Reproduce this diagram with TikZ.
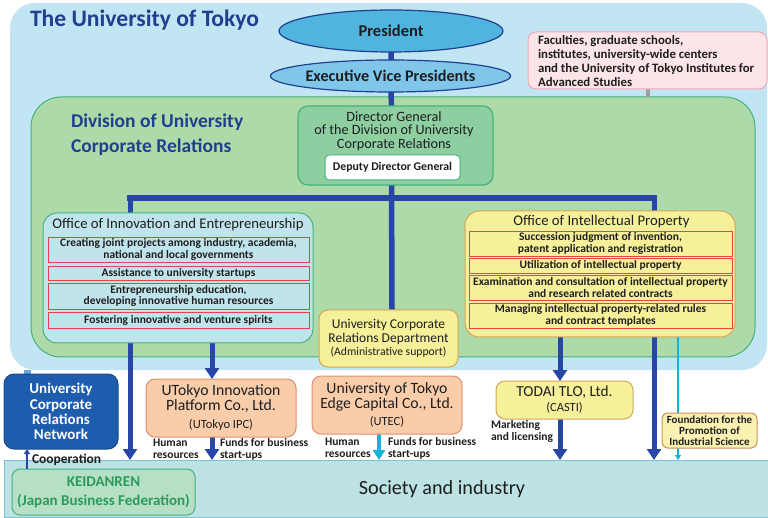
\documentclass[tikz,border=0pt]{standalone}
\usepackage{fontspec}
\setmainfont{Carlito}
\usetikzlibrary{arrows.meta,shapes.geometric}
\pgfdeclarelayer{bg}
\pgfdeclarelayer{mid}
\pgfsetlayers{bg,mid,main}
\definecolor{outerblue}{HTML}{C2E5F4}
\definecolor{divgreen}{HTML}{AEDAA9}
\definecolor{greenline}{HTML}{45B27A}
\definecolor{dggreen}{HTML}{8ECFA2}
\definecolor{navy}{HTML}{1F3F8F}
\definecolor{arrowblue}{HTML}{2846A6}
\definecolor{presblue}{HTML}{50B4DF}
\definecolor{evpblue}{HTML}{80C6EB}
\definecolor{pinkfill}{HTML}{FCE5E9}
\definecolor{pinkline}{HTML}{EFA7B6}
\definecolor{oiefill}{HTML}{C0E4EC}
\definecolor{redline}{HTML}{E8434A}
\definecolor{yelfill}{HTML}{F6F09A}
\definecolor{yelline}{HTML}{D3A657}
\definecolor{fndfill}{HTML}{F9F0B2}
\definecolor{fndline}{HTML}{C8905A}
\definecolor{peachfill}{HTML}{F9CCAA}
\definecolor{peachline}{HTML}{E08F72}
\definecolor{ucrnblue}{HTML}{1E5DAE}
\definecolor{ucrnline}{HTML}{1A4A8A}
\definecolor{socfill}{HTML}{BDE2E3}
\definecolor{socline}{HTML}{7DBFD6}
\definecolor{keifill}{HTML}{B6E0C5}
\definecolor{keitext}{HTML}{2B9A5C}
\definecolor{cyanarr}{HTML}{18B2D9}
\definecolor{txt}{HTML}{1E1E1E}
\definecolor{linkblue}{HTML}{6AA8DC}
\definecolor{greyconn}{HTML}{A0A0A0}
\newcommand\myfs[2]{\fontsize{#1pt}{#2pt}\selectfont}
\begin{document}
\begin{tikzpicture}[x=1pt,y=-1pt,
  every node/.style={inner sep=0pt, outer sep=0pt, text=txt},
  bigline/.style={line width=5.5pt, draw=arrowblue},
  bigarrow/.style={line width=5pt, draw=arrowblue, -{Triangle[width=14pt,length=11pt]}},
  cyanarrow/.style={line width=4pt, draw=cyanarr, -{Triangle[width=12pt,length=10pt]}},
  thincyan/.style={line width=1.8pt, draw=cyanarr, -{Triangle[width=6pt,length=5pt]}},
  thinarrow/.style={line width=1.5pt, draw=arrowblue, -{Triangle[width=6pt,length=5pt]}},
  oiebox/.style={draw=greenline, fill=oiefill, line width=1pt, rounded corners=14pt},
  oipbox/.style={draw=yelline, fill=yelfill, line width=1pt, rounded corners=14pt},
  itembox/.style={draw=redline, line width=0.9pt, align=center, minimum width=#1, font=\bfseries\myfs{11.5}{11.5}},
  compbox/.style={draw=peachline, fill=peachfill, line width=1pt, rounded corners=9pt, align=center, font=\myfs{15.7}{15}},
  yelbox/.style={draw=yelline, fill=yelfill, line width=1pt, rounded corners=9pt, align=center},
  lab/.style={align=left, anchor=west, font=\bfseries\myfs{11.5}{12}},
]
\useasboundingbox (0,0) rectangle (768,518);
\begin{pgfonlayer}{bg}
\node[fill=outerblue, rounded corners=25pt, minimum width=757pt, minimum height=367pt] (outer) at (388.5,186.5) {};
\node[fill=divgreen, draw=greenline, line width=1pt, rounded corners=30pt, minimum width=724pt, minimum height=260pt] (div) at (393,227) {};
\node[fill=socfill, draw=socline, line width=1pt, minimum width=764pt, minimum height=57pt] (soc) at (386,488.5) {};
\end{pgfonlayer}

% titles
\node[anchor=base west, text=navy, font=\bfseries\myfs{23.6}{27}] (title) at (30,27) {The University of Tokyo};
\node[anchor=west, align=left, text=navy, font=\bfseries\myfs{19.5}{25}] (divtitle) at (71,135) {Division of University\\Corporate Relations};

% top hierarchy
\node[ellipse, draw=navy, line width=1.2pt, fill=presblue, minimum width=224pt, minimum height=42pt, font=\bfseries\myfs{16.5}{19}] (pres) at (391,31) {President};
\node[ellipse, draw=navy, line width=1.2pt, fill=evpblue, minimum width=216pt, minimum height=32pt, font=\bfseries\myfs{16.2}{19}] (evp) at (390.5,76) {Executive Vice Presidents};
\node[draw=greenline, fill=dggreen, line width=1.2pt, rounded corners=10pt, minimum width=195pt, minimum height=79pt] (dg) at (395.5,145.5) {};
\node[align=center, font=\myfs{14.2}{13.7}] (dgtext) at (394,131) {Director General\\of the Division of University\\Corporate Relations};
\node[draw=greenline, fill=white, line width=1pt, rounded corners=4pt, minimum width=135pt, minimum height=25pt, font=\bfseries\myfs{11.8}{13}] (deputy) at (392.5,167.5) {Deputy Director General};

\node[draw=pinkline, fill=pinkfill, line width=1pt, rounded corners=8pt, minimum width=239pt, minimum height=57pt] (pink) at (647.5,60.5) {};
\node[anchor=west, align=left, font=\bfseries\myfs{12.8}{14}] (pinktext) at (538,61) {Faculties, graduate schools,\\institutes, university-wide centers\\and the University of Tokyo Institutes for\\Advanced Studies};

% offices
\node[oiebox, minimum width=270pt, minimum height=130pt] (oie) at (178,278) {};
\node[font=\myfs{14.7}{16}] (oietitle) at (178,225) {Office of Innovation and Entrepreneurship};
\node[itembox=261pt, minimum height=25pt] (oie1) at (178.5,249.5) {Creating joint projects among industry, academia,\\national and local governments};
\node[itembox=261pt, minimum height=14pt] (oie2) at (178.5,273) {Assistance to university startups};
\node[itembox=261pt, minimum height=26pt] (oie3) at (178.5,296) {Entrepreneurship education,\\developing innovative human resources};
\node[itembox=261pt, minimum height=16pt] (oie4) at (178.5,320) {Fostering innovative and venture spirits};

\node[oipbox, minimum width=270pt, minimum height=126pt] (oip) at (600,274) {};
\node[font=\myfs{14.7}{16}] (oiptitle) at (601.5,222) {Office of Intellectual Property};
\node[itembox=263pt, minimum height=25pt] (oip1) at (600.5,243.5) {Succession judgment of invention,\\patent application and registration};
\node[itembox=263pt, minimum height=15pt] (oip2) at (600.5,265.5) {Utilization of intellectual property};
\node[itembox=263pt, minimum height=25pt] (oip3) at (600.5,287.5) {Examination and consultation of intellectual property\\and research related contracts};
\node[itembox=263pt, minimum height=25pt] (oip4) at (600.5,315.5) {Managing intellectual property-related rules\\and contract templates};

\node[yelbox, minimum width=139pt, minimum height=57pt, font=\myfs{13.5}{13.5}] (ucr) at (388.5,338.5) {University Corporate\\Relations Department\\{\myfs{11.7}{14}(Administrative support)}};

% companies
\node[compbox, minimum width=150pt, minimum height=58pt] (ipc) at (221,408) {UTokyo Innovation\\Platform Co., Ltd.\\[3pt]{\myfs{12.5}{14}(UTokyo IPC)}};
\node[compbox, minimum width=150pt, minimum height=58pt] (utec) at (387,405) {University of Tokyo\\Edge Capital Co., Ltd.\\[2pt]{\myfs{12.5}{14}(UTEC)}};
\node[yelbox, minimum width=137pt, minimum height=38pt, font=\myfs{15.3}{15}] (tlo) at (564.5,400) {TODAI TLO, Ltd.\\{\myfs{12.5}{14}(CASTI)}};
\node[draw=fndline, fill=fndfill, line width=1pt, rounded corners=6pt, align=center, minimum width=95pt, minimum height=35pt, font=\bfseries\myfs{11}{11}] (fnd) at (709.5,430.5) {Foundation for the\\Promotion of\\Industrial Science};

\node[draw=ucrnline, fill=ucrnblue, line width=1pt, rounded corners=10pt, align=center, minimum width=114pt, minimum height=75pt, text=white, font=\bfseries\myfs{15}{15.2}] (ucrn) at (61,411.5) {University\\Corporate\\Relations\\Network};
\node[draw=greenline, fill=keifill, line width=1pt, rounded corners=8pt, align=center, minimum width=183pt, minimum height=46pt, text=keitext, font=\bfseries\myfs{15}{19}] (kei) at (103.5,492) {KEIDANREN\\(Japan Business Federation)};
\node[font=\myfs{20.2}{22}] (soctext) at (442,489) {Society and industry};

% labels
\node[lab] (l1) at (153,449) {Human\\resources};
\node[lab] (l2) at (220,449) {Funds for business\\start-ups};
\node[lab] (l3) at (325,448) {Human\\resources};
\node[lab] (l4) at (388,448) {Funds for business\\start-ups};
\node[lab] (l5) at (491,431) {Marketing\\and licensing};
\node[anchor=west, font=\bfseries\myfs{13.5}{14}] (coop) at (32,460) {Cooperation};

% connector x positions
\coordinate (xl) at (130,0);
\coordinate (xm) at (392,0);
\coordinate (xr) at (654,0);
\coordinate (xipc) at (212,0);
\coordinate (xutec) at (379,0);
\coordinate (xtlo) at (560,0);
\coordinate (xfnd) at (678,0);
\coordinate (xcoop) at (27,0);
\coordinate (xgrey) at (648,0);
\coordinate (ybar) at (0,198);
\coordinate (barL) at (xl |- ybar);
\coordinate (barR) at (xr |- ybar);

\begin{pgfonlayer}{mid}
\draw[line width=7pt, draw=linkblue] (xcoop |- ucrn.north) -- (xcoop |- outer.south);
\draw[line width=4pt, draw=greyconn] (xgrey |- pink.south) -- (xgrey |- div.north);
\draw[bigline] (pres.center) -- (xm |- ucr.north);
\draw[bigline] ([xshift=-2.75pt]barL) -- ([xshift=2.75pt]barR);
\draw[bigarrow] (barL) -- (xl |- soc.north);
\draw[bigarrow] (barR) -- (xr |- soc.north);
\draw[bigarrow] (xipc |- oie.south) -- (xipc |- ipc.north);
\draw[bigarrow] (xipc |- ipc.south) -- (xipc |- soc.north);
\draw[cyanarrow] (xutec |- utec.south) -- (xutec |- soc.north);
\draw[bigarrow] (xtlo |- oip.south) -- (xtlo |- tlo.north);
\draw[bigarrow] (xtlo |- tlo.south) -- (xtlo |- soc.north);
\draw[thincyan] (xfnd |- oip.south) -- (xfnd |- soc.north);
\end{pgfonlayer}
\draw[thinarrow] (xcoop |- kei.north) -- (xcoop |- ucrn.south);
\end{tikzpicture}
\end{document}
